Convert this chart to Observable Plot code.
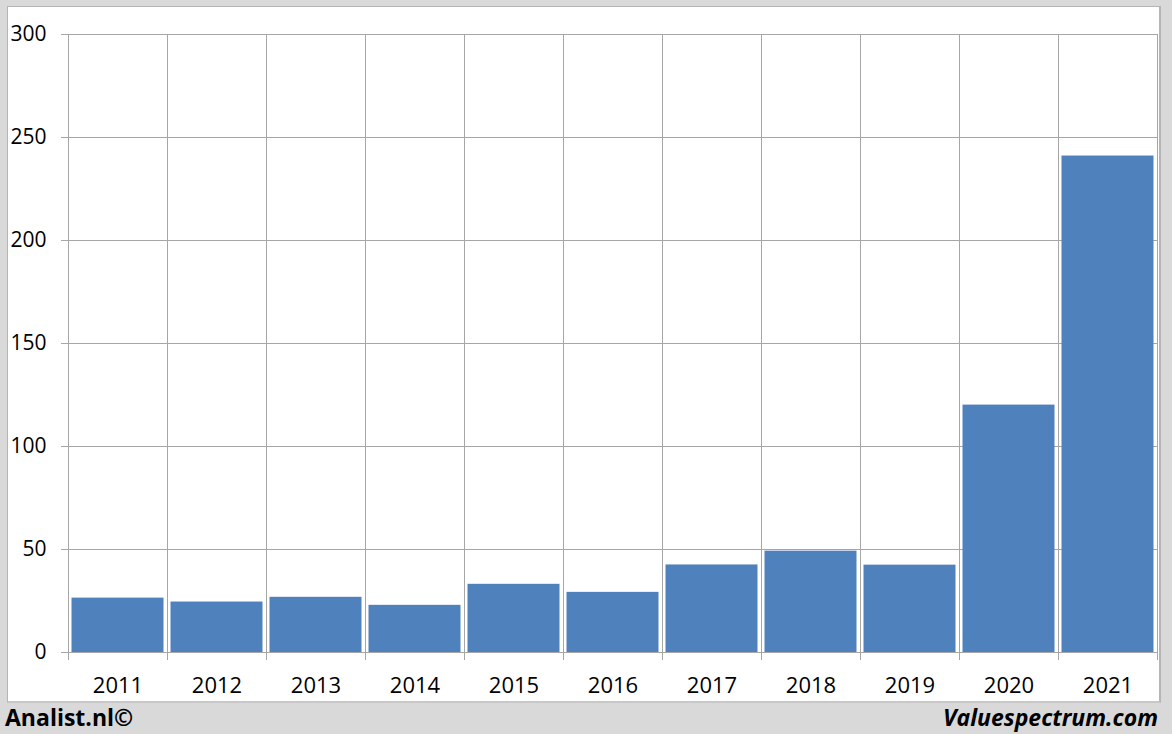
<!DOCTYPE html>
<html>
<head>
<meta charset="utf-8">
<script src="https://cdn.jsdelivr.net/npm/d3@7"></script>
<script src="https://cdn.jsdelivr.net/npm/@observablehq/plot@0.6"></script>
<style>
  html, body { margin: 0; padding: 0; }
  body { width: 1172px; height: 734px; background: #d9d9d9; position: relative; overflow: hidden; font-family: "Open Sans", sans-serif; }
  #panel { position: absolute; left: 7px; top: 6px; width: 1151px; height: 694px; background: #fff; border: 1px solid #b5b5b5; border-right: 2px solid #b5b5b5; border-bottom: 2px solid #c8c8c8; }
  #chart { position: absolute; left: 0; top: 0; }
  #chart svg { background: transparent; }
  .foot { position: absolute; top: 701px; font-size: 23px; font-weight: bold; color: #000; line-height: 32px; }
  #left { left: 5px; }
  #right { right: 14px; font-style: italic; }
</style>
</head>
<body>
<div id="panel"></div>
<div id="chart"></div>
<div class="foot" id="left">Analist.nl©</div>
<div class="foot" id="right">Valuespectrum.com</div>
<script>
const years = ["2011","2012","2013","2014","2015","2016","2017","2018","2019","2020","2021"];
const values = [26.4, 24.5, 26.8, 22.9, 33.1, 29.2, 42.5, 49.2, 42.4, 120.1, 241.0];
const yTicks = [0, 50, 100, 150, 200, 250, 300];

const data = years.map((year, i) => ({year, i, value: values[i]}));
const boundaries = d3.range(0, years.length + 1);
const centers = years.map((_, i) => i + 0.5);

const gridColor = "#a6a6a6";

const plot = Plot.plot({
  width: 1172,
  height: 702,
  marginLeft: 68,
  marginRight: 15,
  marginTop: 34,
  marginBottom: 50,
  style: {fontFamily: "'Open Sans', sans-serif", fontSize: "21px", color: "#000", background: "transparent", overflow: "visible"},
  x: {domain: [0, years.length]},
  y: {domain: [0, 300]},
  marks: [
    Plot.gridY(yTicks, {stroke: gridColor, strokeOpacity: 1}),
    Plot.gridX(boundaries, {stroke: gridColor, strokeOpacity: 1}),
    Plot.rectY(data, {x1: d => d.i, x2: d => d.i + 1, y: "value", fill: "#4f81bd", insetLeft: 3.5, insetRight: 3.5}),
    Plot.axisY(yTicks, {tickSize: 7, tickPadding: 15, stroke: gridColor, fill: "#000", label: null, fontSize: 21}),
    Plot.axisX(boundaries, {tickSize: 8, tickFormat: () => "", stroke: gridColor, label: null}),
    Plot.axisX(centers, {tickSize: 0, tickPadding: 25, tickFormat: v => years[Math.floor(v)], fill: "#000", label: null, fontSize: 22}),
    Plot.ruleY([0], {stroke: gridColor}),
    Plot.ruleX([0], {stroke: gridColor})
  ]
});
document.getElementById("chart").appendChild(plot);
</script>
</body>
</html>
